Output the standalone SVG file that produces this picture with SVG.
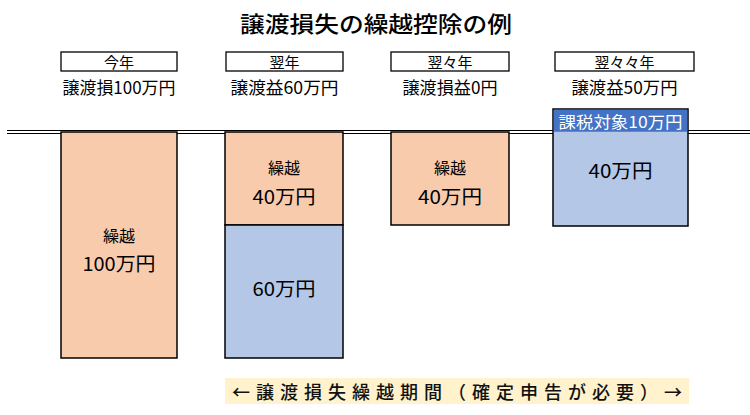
<svg xmlns="http://www.w3.org/2000/svg" width="750" height="415" viewBox="0 0 750 415">
<style>
text{font-family:"Noto Sans CJK JP","Noto Sans",sans-serif;fill:#000;text-anchor:middle;dominant-baseline:central}
.hdr{fill:#fff;stroke:#000;stroke-width:1.3}
.org{fill:#F8CBAD;stroke:#000;stroke-width:1.5}
.blu{fill:#B4C7E7;stroke:#000;stroke-width:1.5}
.t15{font-size:15px}
.t17{font-size:17px}
.t16{font-size:16px}
.t19{font-size:19px}
</style>
<rect width="750" height="415" fill="#fff"/>
<text x="376" y="22" font-size="22" textLength="272" lengthAdjust="spacingAndGlyphs" font-weight="500">譲渡損失の繰越控除の例</text>

<g id="connectors">
<line x1="7" y1="130.5" x2="750" y2="130.5" stroke="#000" stroke-width="1"/>
<line x1="7" y1="133.5" x2="750" y2="133.5" stroke="#000" stroke-width="1"/>
</g>

<g id="year1">
<rect class="hdr" x="61" y="52" width="116" height="19"/>
<text class="t15" x="119" y="61.5">今年</text>
<text class="t17" x="119" y="86" textLength="113" lengthAdjust="spacingAndGlyphs">譲渡損100万円</text>
<rect class="org" x="61" y="132" width="116" height="226"/>
<text class="t16" x="119" y="235">繰越</text>
<text class="t19" x="119" y="262" textLength="73" lengthAdjust="spacingAndGlyphs">100万円</text>
</g>

<g id="year2">
<rect class="hdr" x="226" y="52" width="117" height="19"/>
<text class="t15" x="284.5" y="61.5">翌年</text>
<text class="t17" x="284.5" y="86" textLength="108" lengthAdjust="spacingAndGlyphs">譲渡益60万円</text>
<rect class="org" x="225" y="132" width="118" height="93"/>
<text class="t16" x="284" y="167">繰越</text>
<text class="t19" x="284" y="195" textLength="63" lengthAdjust="spacingAndGlyphs">40万円</text>
<rect class="blu" x="225" y="225" width="118" height="133"/>
<text class="t19" x="284" y="287" textLength="63" lengthAdjust="spacingAndGlyphs">60万円</text>
</g>

<g id="year3">
<rect class="hdr" x="391" y="52" width="118" height="19"/>
<text class="t15" x="450" y="61.5">翌々年</text>
<text class="t17" x="450" y="86" textLength="95" lengthAdjust="spacingAndGlyphs">譲渡損益0円</text>
<rect class="org" x="391" y="132" width="118" height="93"/>
<text class="t16" x="450" y="167">繰越</text>
<text class="t19" x="450" y="195" textLength="64" lengthAdjust="spacingAndGlyphs">40万円</text>
</g>

<g id="year4">
<rect class="hdr" x="555" y="52" width="139" height="19"/>
<text class="t15" x="624.5" y="61.5">翌々々年</text>
<text class="t17" x="624.5" y="86" textLength="106" lengthAdjust="spacingAndGlyphs">譲渡益50万円</text>
<rect class="blu" x="553" y="109" width="135" height="117"/>
<rect x="553.75" y="109.75" width="133.5" height="22" fill="#4472C4"/>
<text class="t16" x="620.5" y="121" style="fill:#fff" textLength="124" lengthAdjust="spacingAndGlyphs">課税対象10万円</text>
<text class="t19" x="620.5" y="169" textLength="64" lengthAdjust="spacingAndGlyphs">40万円</text>
</g>

<g id="period">
<rect x="225" y="378" width="464" height="26" fill="#FFF2CC"/>
<text x="457" y="391" font-size="18" font-weight="500" textLength="450" lengthAdjust="spacing" style="fill:#111">←譲渡損失繰越期間（確定申告が必要）→</text>
</g>
</svg>
